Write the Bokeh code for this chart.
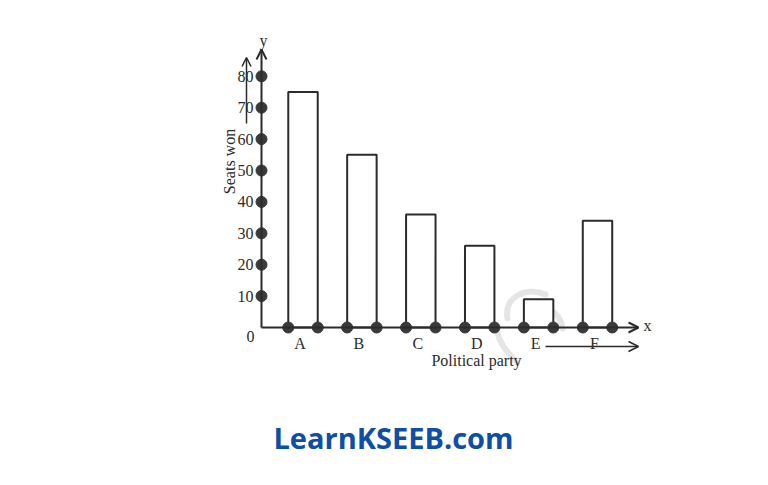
import numpy as np
from bokeh.plotting import figure
from bokeh.models import Arrow, OpenHead, Range1d
from bokeh.core.properties import value
from bokeh.embed import file_html
from bokeh.resources import INLINE

# ---------------- data ----------------
parties = ["A", "B", "C", "D", "E", "F"]
seats = [75, 55, 36, 26, 9, 34]
y_ticks = [10, 20, 30, 40, 50, 60, 70, 80]
y_tick_labels = ["10", "20", "30", "40", "50", "60", "70", "80"]
x_title = "Political party"
y_title = "Seats won"
brand = "LearnKSEEB.com"

# ---------------- layout ----------------
W, H = 752, 469
X0_PX = 302.5      # px of first category centre
X_STEP = 58.9      # px per category
Y0_PX = 327.0      # px (from top) of value 0
Y_STEP = 3.14      # px per seat
BAR_W = 0.5

INK = "#2b2b2b"
SERIF = value("Liberation Serif")


def dx(px):
    return (px - X0_PX) / X_STEP


def dy(py):
    return (Y0_PX - py) / Y_STEP


p = figure(width=W, height=H,
           x_range=Range1d(-X0_PX / X_STEP, (W - X0_PX) / X_STEP),
           y_range=Range1d(-(H - Y0_PX) / Y_STEP, Y0_PX / Y_STEP),
           x_axis_type=None, y_axis_type=None,
           output_backend="svg", toolbar_location=None, min_border=0)
p.grid.visible = False
p.outline_line_color = None
p.background_fill_color = "white"
p.border_fill_color = "white"

idx = np.arange(len(parties))

# watermark (faint swooshes)
wm = dict(line_color="#cfcfcf", line_width=6, line_alpha=0.55, line_cap="round")
p.bezier(x0=[dx(507)], y0=[dy(318)], x1=[dx(545)], y1=[dy(294)],
         cx0=[dx(503)], cy0=[dy(296)], cx1=[dx(526)], cy1=[dy(286)], **wm)
p.bezier(x0=[dx(530)], y0=[dy(310)], x1=[dx(562)], y1=[dy(328)],
         cx0=[dx(545)], cy0=[dy(302)], cx1=[dx(560)], cy1=[dy(312)], **wm)
p.bezier(x0=[dx(497)], y0=[dy(332)], x1=[dx(516)], y1=[dy(362)],
         cx0=[dx(500)], cy0=[dy(346)], cx1=[dx(510)], cy1=[dy(354)], **wm)

# bars
p.vbar(x=idx, top=seats, bottom=0, width=BAR_W, fill_color="white",
       line_color=INK, line_width=2)

# axes with arrows
AX = dx(261)
p.add_layout(Arrow(end=OpenHead(size=10, line_width=2, line_color=INK),
                   x_start=AX, y_start=0, x_end=AX, y_end=dy(49),
                   line_width=2, line_color=INK))
p.add_layout(Arrow(end=OpenHead(size=10, line_width=2, line_color=INK),
                   x_start=AX, y_start=0, x_end=dx(638), y_end=0,
                   line_width=2, line_color=INK))
p.add_layout(Arrow(end=OpenHead(size=9, line_width=1.5, line_color=INK),
                   x_start=dx(246), y_start=dy(123), x_end=dx(246), y_end=dy(57),
                   line_width=1.5, line_color=INK))
p.add_layout(Arrow(end=OpenHead(size=10, line_width=1.5, line_color=INK),
                   x_start=dx(545), y_start=dy(346), x_end=dx(638), y_end=dy(346),
                   line_width=1.5, line_color=INK))

# dots on axes
p.scatter(x=[AX] * len(y_ticks), y=y_ticks, size=11, fill_color="#3a3a3a",
          line_color="#3a3a3a")
edges = np.concatenate([idx - BAR_W / 2, idx + BAR_W / 2])
p.scatter(x=edges, y=np.zeros_like(edges), size=11, fill_color="#3a3a3a",
          line_color="#3a3a3a")

# texts
txt = dict(text_font=SERIF, text_color=INK, text_baseline="middle")
p.text(x=[dx(253)] * len(y_ticks), y=y_ticks, text=y_tick_labels,
       text_align="right", text_font_size="16px", **txt)
p.text(x=[dx(250)], y=[dy(336)], text=["0"], text_align="center",
       text_font_size="16px", **txt)
p.text(x=idx - 0.05, y=[dy(343)] * len(parties), text=parties,
       text_align="center", text_font_size="16px", **txt)
p.text(x=[dx(476)], y=[dy(360)], text=[x_title], text_align="center",
       text_font_size="16px", **txt)
p.text(x=[dx(229)], y=[dy(161)], text=[y_title], text_align="center",
       angle=np.pi / 2, text_font_size="16px", **txt)
p.text(x=[dx(263)], y=[dy(40)], text=["y"], text_align="center",
       text_font_size="16px", **txt)
p.text(x=[dx(647)], y=[dy(325)], text=["x"], text_align="center",
       text_font_size="16px", **txt)

p.text(x=[dx(393)], y=[dy(437)], text=[brand], text_align="center",
       text_baseline="middle", text_font=value("Open Sans"),
       text_font_style="bold", text_font_size="29px", text_color="#0d4ea6")

open("out.html", "w").write(file_html(p, INLINE))
